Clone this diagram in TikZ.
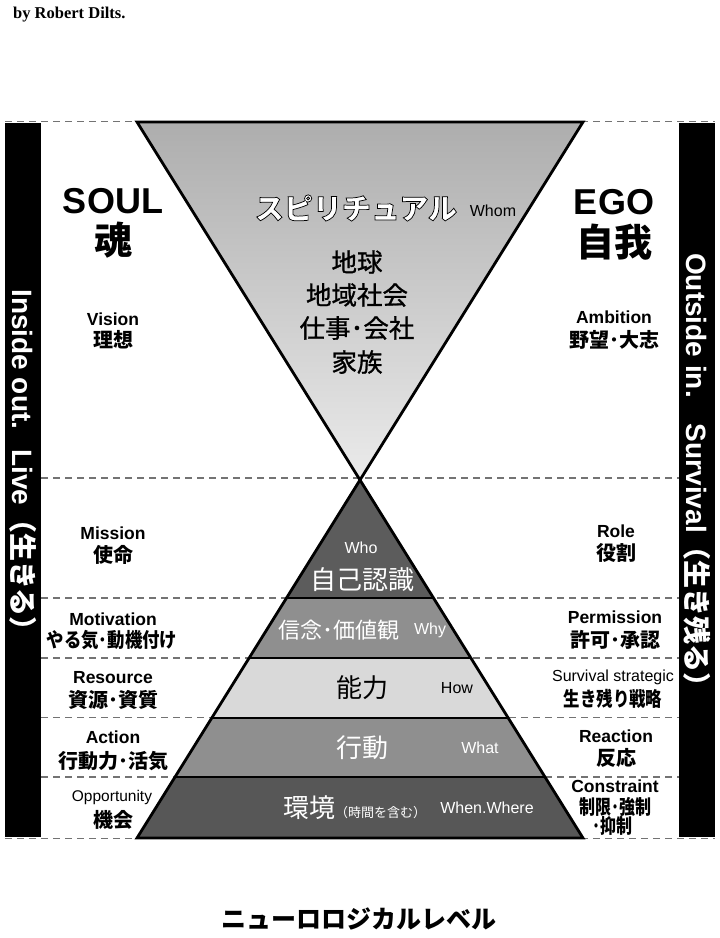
\documentclass[tikz,border=0pt]{standalone}
\usepackage{fontspec}
\setmainfont{Liberation Sans}
\newfontfamily\jp{Noto Sans CJK JP}
\newfontfamily\jpol[UprightFeatures={FakeBold=2.5},BoldFeatures={FakeBold=2.5}]{Noto Sans CJK JP}
\newfontfamily\jpmed[FakeBold=1]{Noto Sans CJK JP}
\newfontfamily\serifbold{Liberation Serif}
\newcommand\fsz[1]{\fontsize{#1}{#1}\selectfont}
\begin{document}
\begin{tikzpicture}[x=1pt,y=-1pt,
  dashline/.style={draw=black!55,line width=1.6pt,dash pattern=on 7pt off 5pt},
  edge/.style={draw=black,line width=2.8pt,line join=miter},
  en/.style={inner sep=0pt,font=\fsz{17.5}\bfseries},
  enr/.style={inner sep=0pt,font=\fsz{15.5}},
  ja/.style={inner sep=0pt,font=\fsz{20}\jp\bfseries},
  big/.style={inner sep=0pt,font=\fsz{36}\bfseries},
  bigja/.style={inner sep=0pt,font=\fsz{38}\jp\bfseries},
  tri/.style={inner sep=0pt,font=\fsz{25.5}\jpmed},
  lvl/.style={inner sep=0pt,font=\fsz{26}\jp},
  q/.style={inner sep=0pt,font=\fsz{16}},
  bar/.style={fill=black,draw=none},
  bartext/.style={inner sep=0pt,text=white,font=\fsz{28}\bfseries,rotate=-90}
]
\useasboundingbox[fill=white] (0,0) rectangle (720,938);

% byline
\node[inner sep=0pt,anchor=base west,font=\fsz{16.5}\serifbold\bfseries] (by) at (13,18) {by Robert Dilts.};

% side bars
\fill[bar] (5,123) rectangle (41,837);
\fill[bar] (679,123) rectangle (715,837);

% dashed level lines
\draw[dashline] (5,121.5) -- (715,121.5);
\draw[dashline] (41,478) -- (679,478);
\draw[dashline] (41,598) -- (679,598);
\draw[dashline] (41,658) -- (679,658);
\draw[dashline] (41,717.5) -- (679,717.5);
\draw[dashline] (41,777) -- (679,777);
\draw[dashline] (5,838.5) -- (715,838.5);

% coordinates
\coordinate (apex) at (360,478);
\coordinate (tl) at (137,122);
\coordinate (tr) at (583,122);
\coordinate (bl) at (137,838);
\coordinate (br) at (583,838);

% inverted triangle
\shade[top color=black!32,bottom color=black!8] (tl) -- (tr) -- (apex) -- cycle;

% pyramid layers
\fill[black!64] (apex) -- (433.9,598) -- (286.1,598) -- cycle;
\fill[black!44] (286.1,598) -- (433.9,598) -- (471.0,658) -- (249.0,658) -- cycle;
\fill[black!15] (249.0,658) -- (471.0,658) -- (508.2,718) -- (211.8,718) -- cycle;
\fill[black!44] (211.8,718) -- (508.2,718) -- (544.7,777) -- (175.3,777) -- cycle;
\fill[black!66] (175.3,777) -- (544.7,777) -- (br) -- (bl) -- cycle;

\draw[edge] (tl) -- (tr) -- (bl) -- (br) -- cycle;
\draw[edge] (286.1,598) -- (433.9,598);
\draw[edge] (249.0,658) -- (471.0,658);
\draw[edge] (211.8,718) -- (508.2,718);
\draw[edge] (175.3,777) -- (544.7,777);

% bar texts
\node[bartext] (inside) at (23,467) {Inside out.\hspace{20pt}Live{\jp\bfseries（生きる）}};
\node[bartext] (outside) at (697,477) {Outside in.\hspace{26pt}Survival{\jp\bfseries（生き残る）}};

% SOUL / EGO
\node[big] (soul) at (113,201) {SOUL};
\node[bigja] (tamashii) at (113,240) {魂};
\node[big] (ego) at (614,202) {EGO};
\node[bigja] (jiga) at (614,242) {自我};

% left labels
\node[en] (vision) at (113,319) {Vision};
\node[ja] (riso) at (113,340) {理想};
\node[en] (mission) at (113,533) {Mission};
\node[ja] (shimei) at (113,555) {使命};
\node[en] (motivation) at (113,619) {Motivation};
\node[ja] (yaruki) at (112,640) {\scalebox{0.87}[1]{やる気･動機付け}};
\node[en] (resource) at (113,678) {Resource};
\node[ja] (shigen) at (113,700) {資源･資質};
\node[en] (action) at (113,737) {Action};
\node[ja] (kodoryoku) at (113,761) {行動力･活気};
\node[enr] (opportunity) at (112,797) {Opportunity};
\node[ja] (kikai) at (113,820) {機会};

% right labels
\node[en] (ambition) at (614,317) {Ambition};
\node[ja] (yabo) at (614,340) {野望･大志};
\node[en] (role) at (616,531) {Role};
\node[ja] (yakuwari) at (616,553) {役割};
\node[en] (permission) at (615,617) {Permission};
\node[ja] (kyoka) at (615,640) {許可･承認};
\node[inner sep=0pt,font=\fsz{16}] (survival) at (613,677) {Survival strategic};
\node[ja] (ikinokori) at (613,699) {\scalebox{0.82}[1]{生き残り戦略}};
\node[en] (reaction) at (616,736) {Reaction};
\node[ja] (hanno) at (616,758) {反応};
\node[en] (constraint) at (615,786) {Constraint};
\node[ja] (seigen) at (615,807) {\scalebox{0.8}[1]{制限･強制}};
\node[ja] (yokusei) at (612,826) {\scalebox{0.8}[1]{･抑制}};

% inverted triangle texts
\node[inner sep=0pt,font=\fsz{29}] (spiritual) at (356,208) {\color{white}\special{pdf:literal direct 0 G}\jpol\bfseries スピリチュアル};
\node[q] (whom) at (493,211) {Whom};
\node[tri] (chikyu) at (357,262) {地球};
\node[tri] (chiiki) at (357,295) {地域社会};
\node[tri] (shigoto) at (357,328) {仕事･会社};
\node[tri] (kazoku) at (357,362) {家族};

% pyramid texts
\node[q,text=white] (who) at (361,548) {Who};
\node[lvl,text=white] (jiko) at (362,580) {自己認識};
\node[inner sep=0pt,font=\fsz{22}\jp,text=white] (shinnen) at (339,630) {信念･価値観};
\node[q,text=white] (why) at (430,630) {Why};
\node[lvl] (noryoku) at (362,688) {能力};
\node[q] (how) at (457,688) {How};
\node[lvl,text=white] (kodo) at (362,748) {行動};
\node[q,text=white] (what) at (480,748) {What};
\node[inner sep=0pt,text=white,anchor=base west] (kankyo) at (283,817) {{\fsz{26}\jp 環境}{\fsz{13}\jp（時間を含む）}};
\node[q,text=white] (whenwhere) at (487,808) {When.Where};

% title
\node[inner sep=0pt,font=\fsz{25}\jp\bfseries] (title) at (359,919) {ニューロロジカルレベル};
\end{tikzpicture}
\end{document}
